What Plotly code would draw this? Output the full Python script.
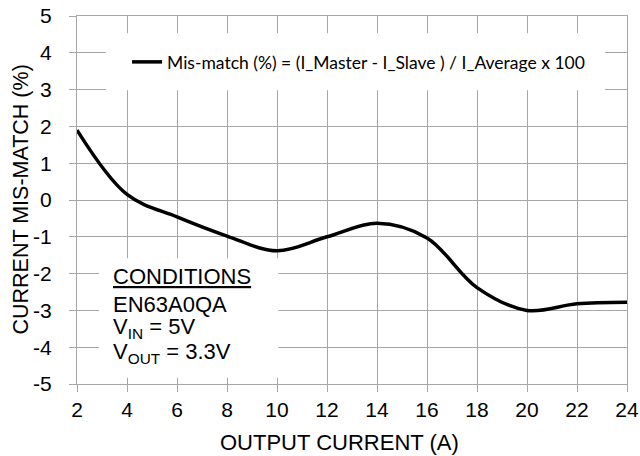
import plotly.graph_objects as go

# Data
output_current = [2, 4, 6, 8, 10, 12, 14, 16, 18, 20, 22, 24]
mismatch_pct = [1.9, 0.15, -0.46, -0.98, -1.38, -1.0, -0.63, -1.03, -2.38, -3.0, -2.82, -2.78]

x_ticks = [2, 4, 6, 8, 10, 12, 14, 16, 18, 20, 22, 24]
y_ticks = [5, 4, 3, 2, 1, 0, -1, -2, -3, -4, -5]
y_tick_text = ["5", "4", "3", "2", "1", "0", "-1", "-2", "-3", "-4", "-5"]

series_name = "Mis-match (%) = (I_Master - I_Slave ) / I_Average x 100"
x_title = "OUTPUT CURRENT (A)"
y_title = "CURRENT MIS-MATCH (%)"
conditions_lines = ["<u>CONDITIONS</u>", "EN63A0QA", "V<sub>IN</sub> = 5V", "V<sub>OUT</sub> = 3.3V"]

AX_FONT = "Liberation Sans, Arial, sans-serif"
GRID = "#a6a6a6"

fig = go.Figure()
fig.add_trace(go.Scatter(
    x=output_current, y=mismatch_pct, mode="lines",
    line=dict(color="black", width=3.5, shape="spline", smoothing=1.0),
    name=series_name, showlegend=True,
))

# white boxes behind legend and conditions text
fig.add_shape(type="rect", xref="x", yref="y", x0=3.16, x1=23.12, y0=2.98, y1=4.53,
              fillcolor="white", line=dict(width=0), layer="between")
fig.add_shape(type="rect", xref="x", yref="y", x0=2.88, x1=10.05, y0=-4.83, y1=-1.58,
              fillcolor="white", line=dict(width=0), layer="between")

# conditions text
cond_y = [-2.08, -2.84, -3.49, -4.16]
for txt, yy in zip(conditions_lines, cond_y):
    fig.add_annotation(x=3.36, y=yy, xref="x", yref="y", text=txt, showarrow=False,
                       xanchor="left", yanchor="middle",
                       font=dict(family=AX_FONT, size=22, color="black"))

# axis titles
fig.add_annotation(x=0.478, y=-0.158, xref="paper", yref="paper", text=x_title,
                   showarrow=False, xanchor="center", yanchor="middle",
                   font=dict(family=AX_FONT, size=22, color="black"))
fig.add_annotation(x=-0.1027, y=0.5, xref="paper", yref="paper", text=y_title,
                   showarrow=False, xanchor="center", yanchor="middle", textangle=-90,
                   font=dict(family=AX_FONT, size=21.5, color="black"))

fig.update_layout(
    width=640, height=456,
    margin=dict(l=77, r=13, t=16, b=72),
    paper_bgcolor="white", plot_bgcolor="white",
    font=dict(family=AX_FONT, size=21, color="black"),
    legend=dict(x=0.091, y=0.875, xanchor="left", yanchor="middle",
                bgcolor="rgba(0,0,0,0)", borderwidth=0,
                font=dict(family="Lato, Carlito, sans-serif", size=17.5, color="black")),
    xaxis=dict(range=[2, 24], tickvals=x_ticks, showgrid=True, gridcolor=GRID, gridwidth=1,
               showline=True, linecolor=GRID, linewidth=1, mirror=True,
               ticks="outside", ticklen=7, tickcolor=GRID, ticklabelstandoff=0,
               zeroline=False, automargin=False),
    yaxis=dict(range=[-5, 5], tickvals=y_ticks, ticktext=y_tick_text, showgrid=True,
               gridcolor=GRID, gridwidth=1,
               showline=True, linecolor=GRID, linewidth=1, mirror=True,
               ticks="outside", ticklen=7, tickcolor=GRID, ticklabelstandoff=13,
               zeroline=False, automargin=False),
)

fig.write_html("out.html",
               config={"displayModeBar": False},
               post_script="document.body.style.margin='0';document.body.style.padding='0';")
